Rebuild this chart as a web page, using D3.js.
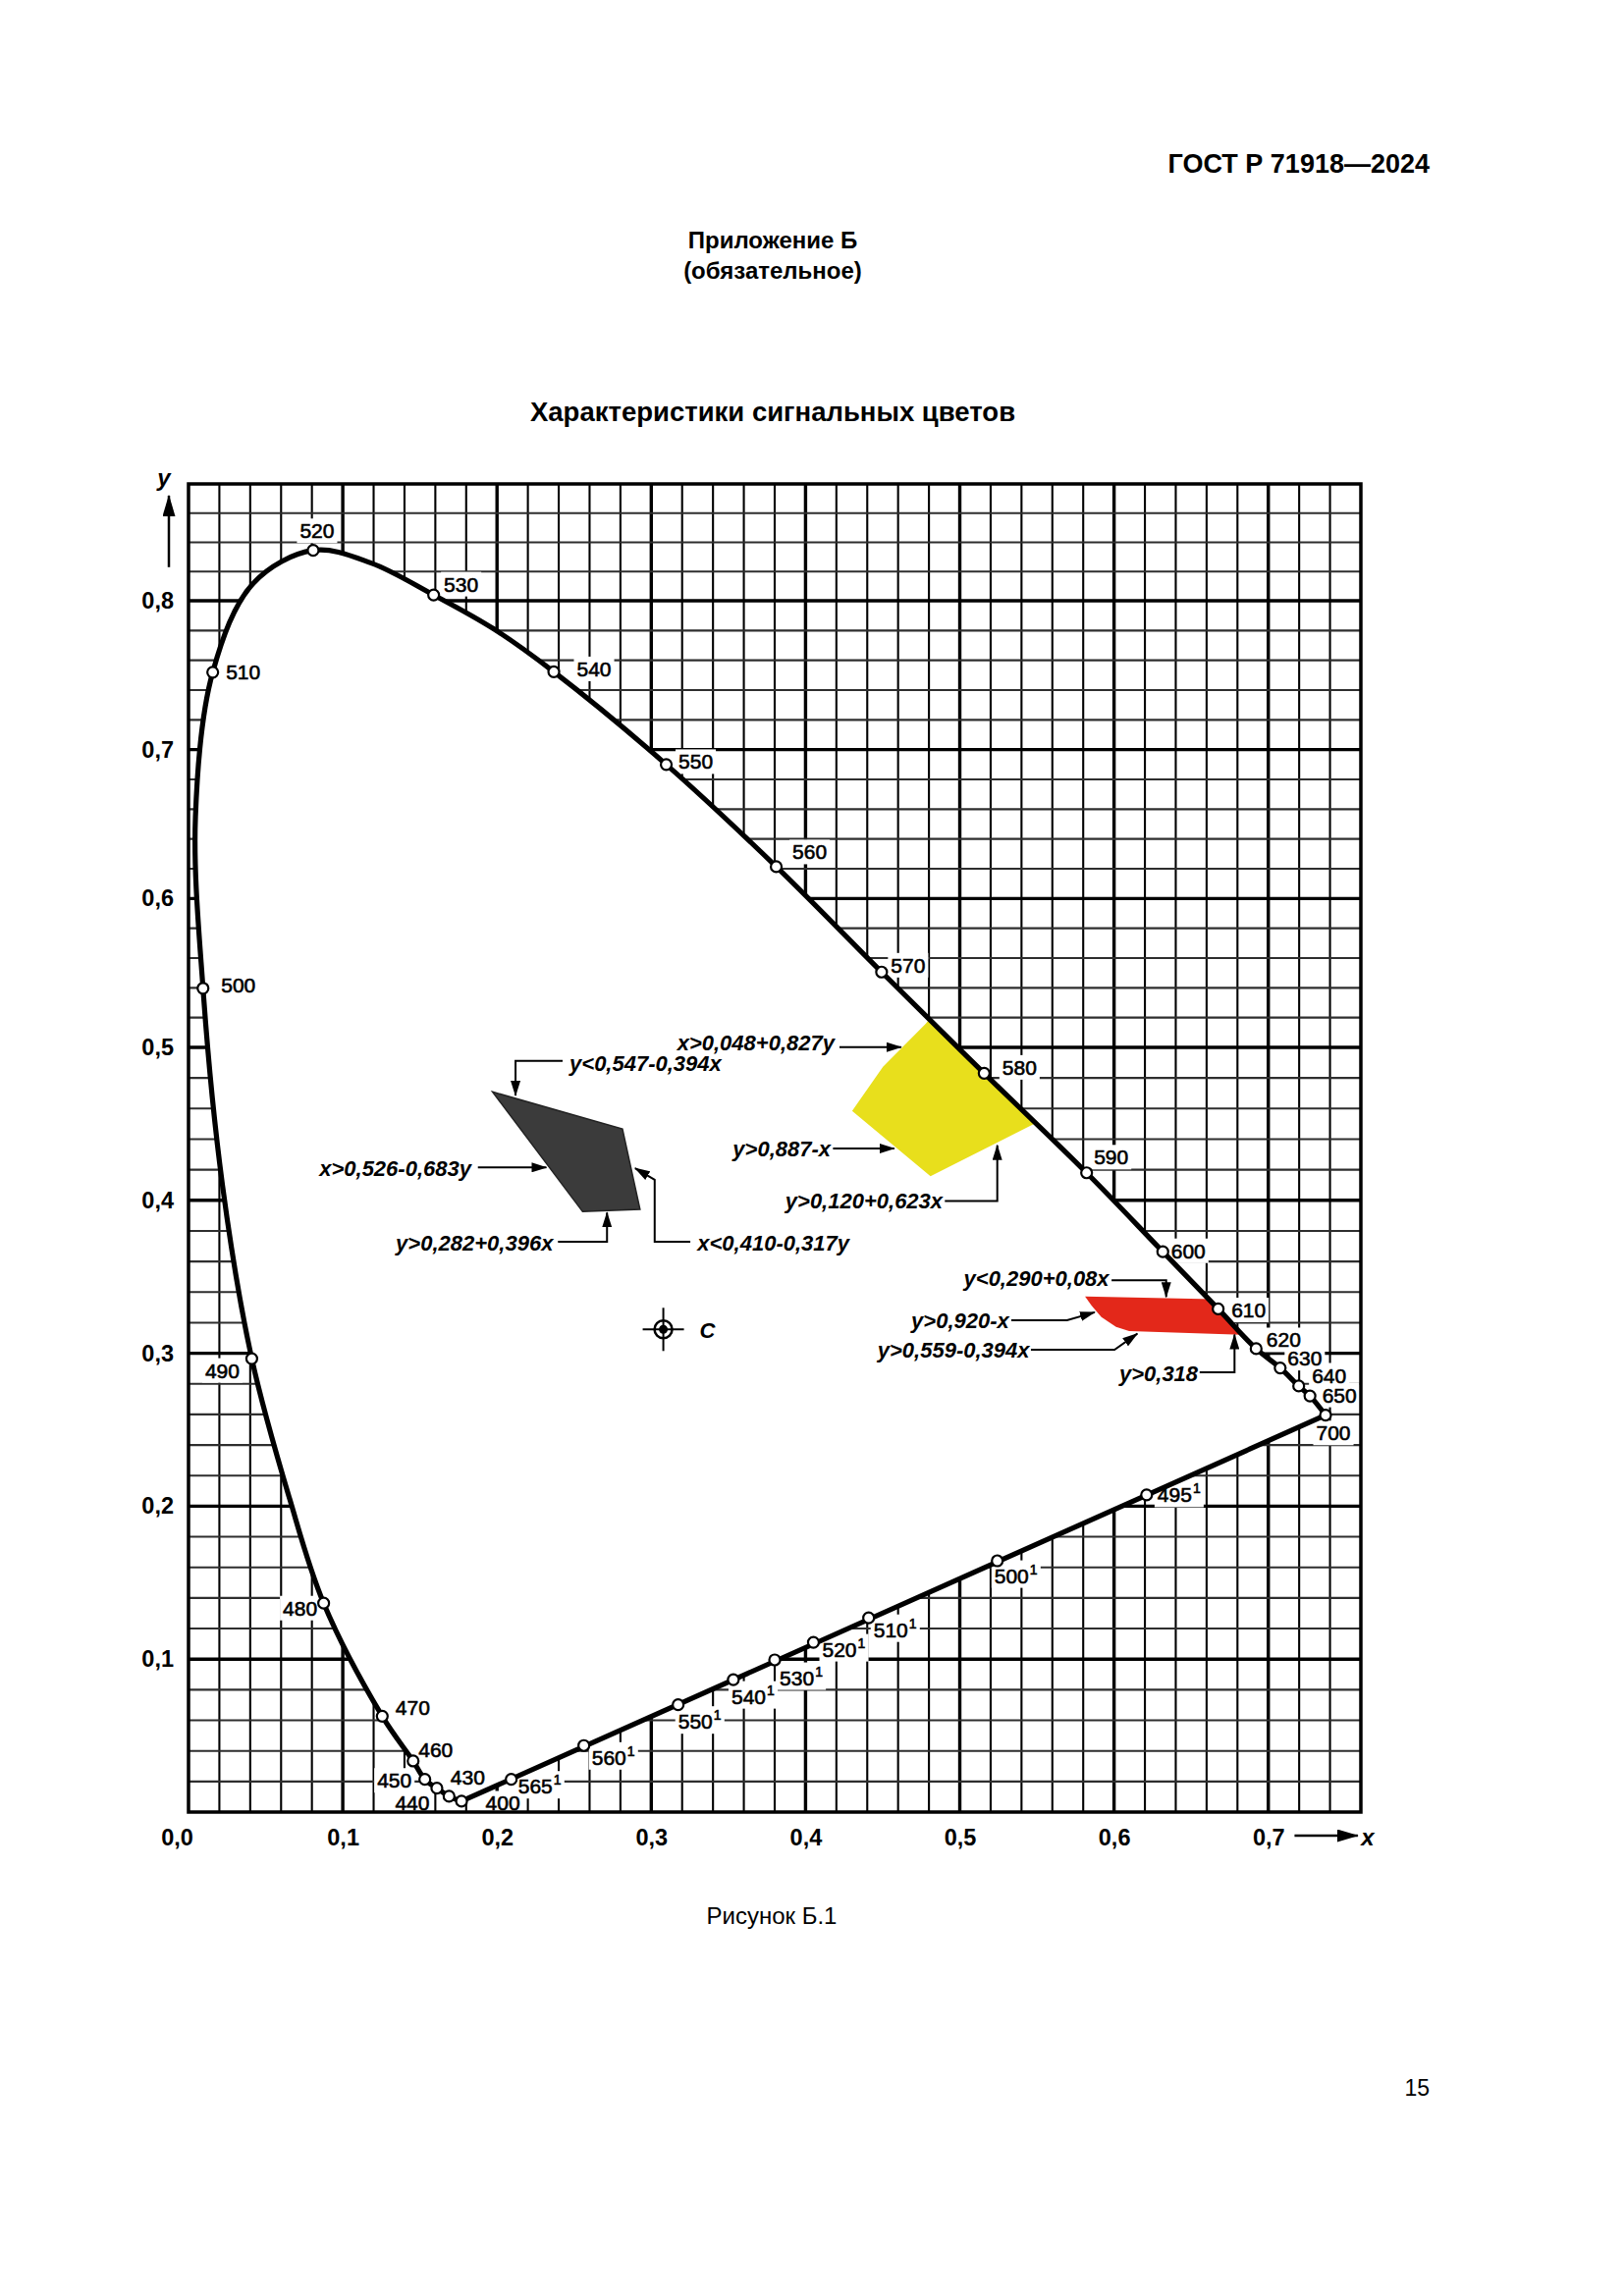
<!DOCTYPE html>
<html><head><meta charset="utf-8">
<script src="https://cdn.jsdelivr.net/npm/d3@7"></script>
<style>
body{margin:0;background:#fff}
svg{display:block;font-family:"Liberation Sans",Arial,sans-serif}
</style>
</head><body>
<svg id="c" width="1654" height="2339"></svg>
<script>
// ---------------- DATA ----------------
const locusWl = [400,430,440,450,460,470,480,485,490,495,500,505,510,515,520,525,530,535,540,550,560,570,580,590,600,610,620,630,640,650,700];
const locusX  = [0.177,0.1689,0.161,0.1532,0.1456,0.1256,0.0876,0.0655,0.041,0.022,0.0094,0.0045,0.0157,0.042,0.0808,0.118,0.1589,0.198,0.2368,0.3097,0.381,0.4493,0.5158,0.5822,0.6316,0.6675,0.6921,0.7077,0.7197,0.727,0.7371];
const locusY  = [0.0071,0.0103,0.0156,0.0214,0.0334,0.0627,0.1366,0.205,0.2965,0.41,0.5397,0.655,0.752,0.812,0.8345,0.826,0.804,0.781,0.7523,0.690,0.6214,0.5506,0.4831,0.418,0.3664,0.329,0.303,0.2904,0.2786,0.2721,0.2595];
const markedWl = [400,430,440,450,460,470,480,490,500,510,520,530,540,550,560,570,580,590,600,610,620,630,640,650,700];

const purpleLabels = ["565","560","550","540","530","520","510","500","495"];
const purpleX = [0.2092,0.2563,0.3174,0.3532,0.380,0.4051,0.4409,0.5243,0.6211];
const purpleY = [0.0214,0.0435,0.0702,0.0866,0.0995,0.1110,0.1270,0.1643,0.2074];

const xTicks = [0,0.1,0.2,0.3,0.4,0.5,0.6,0.7];
const xTickLabels = ["0,0","0,1","0,2","0,3","0,4","0,5","0,6","0,7"];
const yTicks = [0.1,0.2,0.3,0.4,0.5,0.6,0.7,0.8];
const yTickLabels = ["0,1","0,2","0,3","0,4","0,5","0,6","0,7","0,8"];

// colour regions (chromaticity coordinates)
const blackRegionX = [0.1971,0.2813,0.2927,0.2555];
const blackRegionY = [0.4709,0.4467,0.3941,0.3926];
const yellowRegionX = [0.4302,0.4502,0.478,0.487,0.565,0.555,0.481];
const yellowRegionY = [0.4585,0.4874,0.516,0.528,0.47,0.4535,0.4157];
const redRegionX = [0.5812,0.672,0.692,0.6098,0.6013,0.5918,0.5854];
const redRegionY = [0.3372,0.3352,0.3118,0.3145,0.3173,0.3237,0.3312];
const illuminantC = [0.3078,0.3156];

// annotation texts with leader lines (chromaticity coordinates)
const annotations = [
 {text:"x>0,048+0,827y", tx:0.4188, ty:0.5033, anchor:"end",   path:[[0.422,0.5002],[0.462,0.5002]]},
 {text:"y<0,547-0,394x", tx:0.247,  ty:0.4897, anchor:"start", path:[[0.2425,0.4912],[0.212,0.4912],[0.212,0.4685]]},
 {text:"x>0,526-0,683y", tx:0.1833, ty:0.421,  anchor:"end",   path:[[0.1876,0.4215],[0.232,0.4215]]},
 {text:"y>0,282+0,396x", tx:0.2364, ty:0.3723, anchor:"end",   path:[[0.2395,0.3729],[0.2713,0.3729],[0.2713,0.392]]},
 {text:"x<0,410-0,317y", tx:0.3299, ty:0.3723, anchor:"start", path:[[0.3253,0.3729],[0.3022,0.3729],[0.3022,0.4135],[0.2895,0.421]]},
 {text:"y>0,887-x",      tx:0.4163, ty:0.4339, anchor:"end",   path:[[0.4178,0.4339],[0.4575,0.4339]]},
 {text:"y>0,120+0,623x", tx:0.4889, ty:0.3996, anchor:"end",   path:[[0.4903,0.3996],[0.5243,0.3996],[0.5243,0.436]]},
 {text:"y<0,290+0,08x",  tx:0.5968, ty:0.3487, anchor:"end",   path:[[0.5984,0.3477],[0.6338,0.3477],[0.6338,0.3368]]},
 {text:"y>0,920-x",      tx:0.532,  ty:0.3216, anchor:"end",   path:[[0.5334,0.3216],[0.5695,0.3216],[0.5875,0.3268]]},
 {text:"y>0,559-0,394x", tx:0.5452, ty:0.3023, anchor:"end",   path:[[0.5461,0.3023],[0.6003,0.3023],[0.6151,0.3128]]},
 {text:"y>0,318",        tx:0.6544, ty:0.2869, anchor:"end",   path:[[0.6555,0.2875],[0.6781,0.2875],[0.6781,0.3122]]}
];

// ---------------- LAYOUT ----------------
const wlLabelOffset = {400:[42,2],430:[19,-20],440:[-25,15],450:[-31,1],460:[23,-12],470:[31,-9],480:[-24,5],490:[-30,12],500:[36,-3],510:[31,0],520:[4,-20],530:[28,-11],540:[41,-3],550:[30,-3],560:[34,-15],570:[27,-7],580:[36,-6],590:[25,-16],600:[26,-1],610:[31,1],620:[28,-9],630:[25,-10],640:[31,-11],650:[30,-1],700:[8,18]};
const purpleLabelOffset = [[29,7],[30,12],[22,17],[20,17],[27,18],[31,7],[27,12],[19,15],[33,0]];

const svg = d3.select("#c");
const x = d3.scaleLinear().domain([0,0.76]).range([192,1386]);
const y = d3.scaleLinear().domain([0,0.5,0.8,0.88]).range([1846,1067,612,493]);

const defs = svg.append("defs");
defs.append("marker").attr("id","arr").attr("markerUnits","userSpaceOnUse")
  .attr("markerWidth",16).attr("markerHeight",10).attr("refX",15).attr("refY",5).attr("orient","auto")
  .append("path").attr("d","M0,0L16,5L0,10Z").attr("fill","#000");
defs.append("marker").attr("id","arrBig").attr("markerUnits","userSpaceOnUse")
  .attr("markerWidth",22).attr("markerHeight",13).attr("refX",21).attr("refY",6.5).attr("orient","auto")
  .append("path").attr("d","M0,0L22,6.5L0,13Z").attr("fill","#000");

const locusPts = locusWl.map((w,i)=>[locusX[i],locusY[i]]);
const line = d3.line().x(d=>x(d[0])).y(d=>y(d[1])).curve(d3.curveCatmullRom.alpha(0.5));
const locusD = line(locusPts) + "Z";
const frameD = `M${x(0)},${y(0)}H${x(0.76)}V${y(0.88)}H${x(0)}Z`;

defs.append("clipPath").attr("id","outside").append("path")
  .attr("d", frameD + locusD).attr("clip-rule","evenodd");
defs.append("clipPath").attr("id","inside").append("path").attr("d", locusD);

// header texts
svg.append("text").attr("x",1456).attr("y",167).attr("dy","0.35em").attr("text-anchor","end")
  .attr("font-size",27).attr("font-weight","bold").text("ГОСТ Р 71918—2024");
svg.append("text").attr("x",787).attr("y",245).attr("dy","0.35em").attr("text-anchor","middle")
  .attr("font-size",24).attr("font-weight","bold").text("Приложение Б");
svg.append("text").attr("x",787).attr("y",276).attr("dy","0.35em").attr("text-anchor","middle")
  .attr("font-size",24).attr("font-weight","bold").text("(обязательное)");
svg.append("text").attr("x",787).attr("y",419).attr("dy","0.35em").attr("text-anchor","middle")
  .attr("font-size",27.5).attr("font-weight","bold").text("Характеристики сигнальных цветов");
svg.append("text").attr("x",786).attr("y",1952).attr("dy","0.35em").attr("text-anchor","middle")
  .attr("font-size",24).text("Рисунок Б.1");
svg.append("text").attr("x",1456).attr("y",2127).attr("dy","0.35em").attr("text-anchor","end")
  .attr("font-size",23).text("15");

// groups
const gridG = svg.append("g").attr("clip-path","url(#outside)");
const bgG = svg.append("g");
const regG = svg.append("g");
const locG = svg.append("g");
const mkG = svg.append("g");
const annG = svg.append("g");
const labG = svg.append("g");
const axG = svg.append("g");

// grid
const gridXs = d3.range(1,38).map(k=>+(k*0.02).toFixed(2));
const gridYs = d3.range(1,44).map(k=>+(k*0.02).toFixed(2));
const isMajor = v => Math.abs(v*10-Math.round(v*10))<1e-6;
gridG.selectAll("line.v").data(gridXs).join("line")
  .attr("x1",d=>x(d)).attr("x2",d=>x(d)).attr("y1",y(0)).attr("y2",y(0.88))
  .attr("stroke","#000").attr("stroke-width",d=>isMajor(d)?3.4:2.1);
gridG.selectAll("line.h").data(gridYs).join("line")
  .attr("x1",x(0)).attr("x2",x(0.76)).attr("y1",d=>y(d)).attr("y2",d=>y(d))
  .attr("stroke",d=>isMajor(d)?"#000":"#2e2e2e").attr("stroke-width",d=>isMajor(d)?3.4:2.1);

// regions
const regLine = d3.line().x(d=>x(d[0])).y(d=>y(d[1]));
regG.append("path").attr("d", regLine(blackRegionX.map((v,i)=>[v,blackRegionY[i]]))+"Z")
  .attr("fill","#3b3b3b").attr("stroke","#222").attr("stroke-width",1.5);
regG.append("path").attr("clip-path","url(#inside)")
  .attr("d", regLine(yellowRegionX.map((v,i)=>[v,yellowRegionY[i]]))+"Z")
  .attr("fill","#e8df1c");
regG.append("path").attr("clip-path","url(#inside)")
  .attr("d", regLine(redRegionX.map((v,i)=>[v,redRegionY[i]]))+"Z")
  .attr("fill","#e3281a");

// locus line
locG.append("path").attr("d",locusD).attr("fill","none").attr("stroke","#000")
  .attr("stroke-width",5.2).attr("stroke-linejoin","round");

// wavelength labels
const fontLab = 21;
markedWl.forEach(w=>{
  const i = locusWl.indexOf(w);
  const px = x(locusX[i]), py = y(locusY[i]);
  const o = wlLabelOffset[w];
  labG.append("text").attr("class","wl").attr("x",px+o[0]).attr("y",py+o[1]).attr("dy","0.36em")
    .attr("text-anchor","middle").attr("font-size",fontLab)
    .attr("stroke","#000").attr("stroke-width",0.6).text(w);
  mkG.append("circle").attr("cx",px).attr("cy",py).attr("r",5.5)
    .attr("fill","#fff").attr("stroke","#000").attr("stroke-width",2.2);
});
purpleLabels.forEach((lab,i)=>{
  const px = x(purpleX[i]), py = y(purpleY[i]);
  const o = purpleLabelOffset[i];
  const t = labG.append("text").attr("class","wl").attr("x",px+o[0]).attr("y",py+o[1]).attr("dy","0.36em")
    .attr("text-anchor","middle").attr("font-size",fontLab)
    .attr("stroke","#000").attr("stroke-width",0.6);
  t.append("tspan").text(lab);
  t.append("tspan").attr("font-size",14).attr("dy",-9).attr("dx",1).text("1");
  mkG.append("circle").attr("cx",px).attr("cy",py).attr("r",5.5)
    .attr("fill","#fff").attr("stroke","#000").attr("stroke-width",2.2);
});
labG.selectAll("text.wl").each(function(){
  const b = this.getBBox();
  bgG.append("rect").attr("x",b.x-3).attr("y",b.y-1).attr("width",b.width+6).attr("height",b.height+2).attr("fill","#fff");
});

// illuminant C
const cx = x(illuminantC[0]), cy = y(illuminantC[1]);
annG.append("line").attr("x1",cx-21).attr("x2",cx+21).attr("y1",cy).attr("y2",cy).attr("stroke","#000").attr("stroke-width",2);
annG.append("line").attr("x1",cx).attr("x2",cx).attr("y1",cy-22).attr("y2",cy+22).attr("stroke","#000").attr("stroke-width",2);
annG.append("circle").attr("cx",cx).attr("cy",cy).attr("r",9).attr("fill","none").attr("stroke","#000").attr("stroke-width",2.5);
annG.append("circle").attr("cx",cx).attr("cy",cy).attr("r",4.5).attr("fill","#000");
annG.append("text").attr("x",cx+37).attr("y",cy+1).attr("dy","0.35em").attr("font-size",22)
  .attr("font-style","italic").attr("font-weight","bold").text("C");

// annotations
annotations.forEach(a=>{
  annG.append("path").attr("d", regLine(a.path)).attr("fill","none").attr("stroke","#000")
    .attr("stroke-width",2).attr("marker-end","url(#arr)");
  annG.append("text").attr("x",x(a.tx)).attr("y",y(a.ty)).attr("dy","0.35em")
    .attr("text-anchor",a.anchor).attr("font-size",22).attr("font-style","italic")
    .attr("font-weight","bold").text(a.text);
});

// axes
const xAxis = axG.append("g").attr("transform",`translate(0,${y(0)})`)
  .call(d3.axisBottom(x).tickValues(xTicks).tickFormat((d,i)=>xTickLabels[i]).tickSize(0));
xAxis.select(".domain").remove();
xAxis.selectAll("text").attr("y",26).attr("dy","0.35em").attr("font-size",23.5).attr("font-weight","bold")
  .attr("fill","#000").attr("font-family","Liberation Sans, Arial, sans-serif")
  .attr("dx",(d,i)=>i===0?-12:0);
const yAxis = axG.append("g").attr("transform",`translate(${x(0)},0)`)
  .call(d3.axisLeft(y).tickValues(yTicks).tickFormat((d,i)=>yTickLabels[i]).tickSize(0).tickPadding(15));
yAxis.select(".domain").remove();
yAxis.selectAll("text").attr("font-size",23.5).attr("font-weight","bold").attr("fill","#000")
  .attr("font-family","Liberation Sans, Arial, sans-serif");

// axis arrows and names
axG.append("line").attr("x1",x(0)-20).attr("x2",x(0)-20).attr("y1",y(0.823)).attr("y2",y(0.872))
  .attr("stroke","#000").attr("stroke-width",2.5).attr("marker-end","url(#arrBig)");
axG.append("text").attr("x",x(0)-25).attr("y",y(0.88)-6).attr("text-anchor","middle").attr("dy","0.35em")
  .attr("font-size",24).attr("font-style","italic").attr("font-weight","bold").text("y");
axG.append("line").attr("x1",x(0.717)).attr("x2",x(0.758)).attr("y1",y(0)+24).attr("y2",y(0)+24)
  .attr("stroke","#000").attr("stroke-width",2.5).attr("marker-end","url(#arrBig)");
axG.append("text").attr("x",x(0.76)+7).attr("y",y(0)+26).attr("text-anchor","middle").attr("dy","0.35em")
  .attr("font-size",24).attr("font-style","italic").attr("font-weight","bold").text("x");

// frame
axG.append("path").attr("d",frameD).attr("fill","none").attr("stroke","#000").attr("stroke-width",3.5);
</script>
</body></html>
